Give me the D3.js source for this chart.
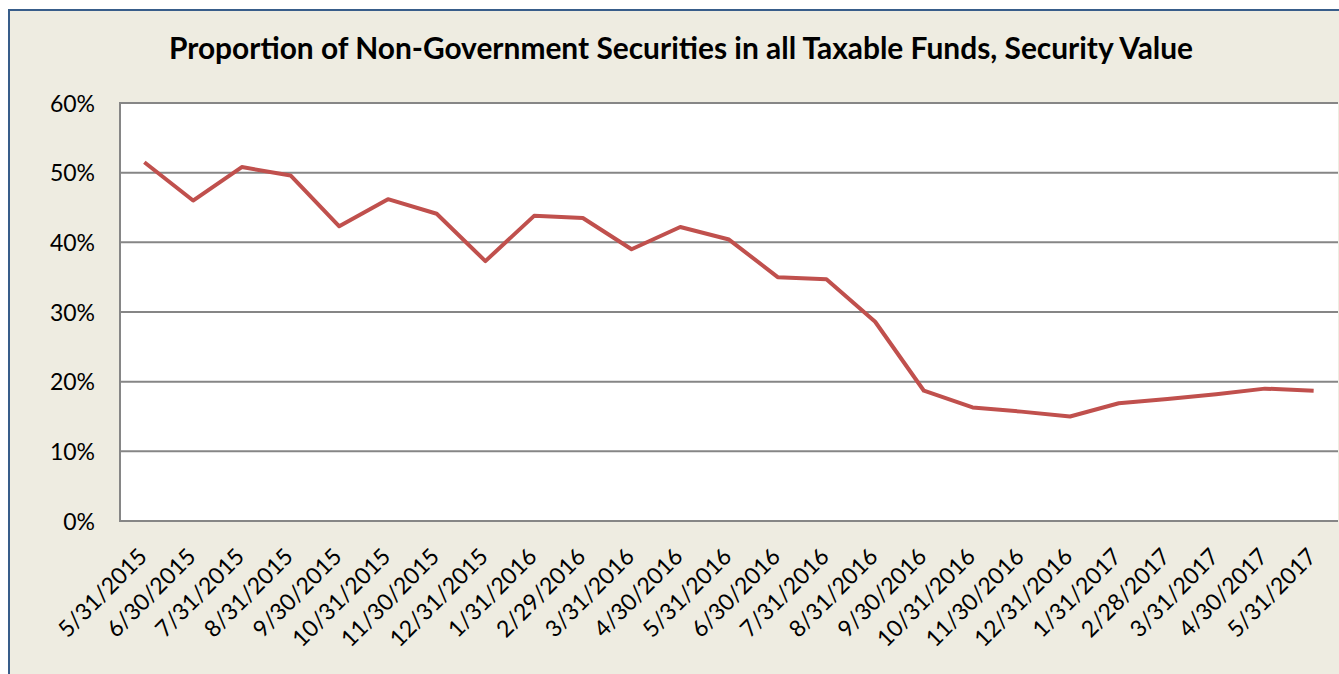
<!DOCTYPE html>
<html>
<head>
<meta charset="utf-8">
<script src="https://cdn.jsdelivr.net/npm/d3@7"></script>
<style>
  body { margin: 0; background: #fff; }
  svg { display: block; font-family: Lato, "Open Sans", sans-serif; }
</style>
</head>
<body>
<svg id="chart" width="1339" height="674"></svg>
<script>
// month-end dates along the x axis
var dates = ["5/31/2015", "6/30/2015", "7/31/2015", "8/31/2015", "9/30/2015", "10/31/2015",
  "11/30/2015", "12/31/2015", "1/31/2016", "2/29/2016", "3/31/2016", "4/30/2016",
  "5/31/2016", "6/30/2016", "7/31/2016", "8/31/2016", "9/30/2016", "10/31/2016",
  "11/30/2016", "12/31/2016", "1/31/2017", "2/28/2017", "3/31/2017", "4/30/2017", "5/31/2017"]

// share of non-government securities (fraction)
var shares = [0.515, 0.460, 0.508, 0.496, 0.423, 0.462, 0.441, 0.373, 0.438, 0.435, 0.390, 0.422,
  0.404, 0.350, 0.347, 0.286, 0.187, 0.163, 0.157, 0.150, 0.169, 0.175, 0.182, 0.190, 0.187]

var yTicks = [0, 0.1, 0.2, 0.3, 0.4, 0.5, 0.6]

var title = "Proportion of Non-Government Securities in all Taxable Funds, Security Value"

var svg = d3.select('#chart')

// note: "top" is taken by window.top, so use plot_* names
var plot_left = 120, plot_right = 1338, plot_top = 103, plot_bottom = 521

// outer chart frame
svg.append('rect')
    .attr('x', 9).attr('y', 10)
    .attr('width', 1400).attr('height', 700)
    .attr('fill', '#eeece1')
    .attr('stroke', '#385d8a')
    .attr('stroke-width', 2)

svg.append('text')
    .attr('x', 681)
    .attr('y', 59)
    .attr('text-anchor', 'middle')
    .style('font-size', '29.9px')
    .style('font-weight', 'bold')
    .attr('fill', '#000')
    .text(title)

var x = d3.scaleBand()
    .domain(dates)
    .range([plot_left, plot_right])

var y = d3.scaleLinear()
    .domain([0, 0.6])
    .range([plot_bottom, plot_top])

// plot area
svg.append('rect')
    .attr('x', plot_left).attr('y', plot_top)
    .attr('width', plot_right - plot_left).attr('height', plot_bottom - plot_top)
    .attr('fill', '#fff')

// gridlines
svg.append('g')
    .selectAll('line')
    .data(yTicks)
    .join('line')
    .attr('x1', plot_left)
    .attr('x2', plot_right)
    .attr('y1', d => y(d))
    .attr('y2', d => y(d))
    .attr('stroke', '#868686')
    .attr('stroke-width', 2)

svg.append('line')
    .attr('x1', plot_left).attr('x2', plot_left)
    .attr('y1', plot_top - 1).attr('y2', plot_bottom + 1)
    .attr('stroke', '#868686')
    .attr('stroke-width', 2)

// y axis labels
var yAxis = d3.axisLeft(y)
    .tickValues(yTicks)
    .tickFormat(d3.format('.0%'))
    .tickSize(0)
    .tickPadding(25)

var gy = svg.append('g')
    .attr('transform', 'translate(' + plot_left + ',0)')
    .call(yAxis)
gy.select('.domain').remove()
gy.selectAll('text')
    .style('font-size', '23px')
    .style('font-family', 'Lato, "Open Sans", sans-serif')
    .attr('fill', '#000')
    .attr('dy', '0.35em')

// x axis labels, rotated
var xAxis = d3.axisBottom(x).tickSize(0).tickPadding(0)
var gx = svg.append('g')
    .attr('transform', 'translate(0,' + plot_bottom + ')')
    .call(xAxis)
gx.select('.domain').remove()
gx.selectAll('text')
    .style('font-size', '23px')
    .style('font-family', 'Lato, "Open Sans", sans-serif')
    .attr('fill', '#000')
    .attr('text-anchor', 'end')
    .attr('x', 0)
    .attr('y', 0)
    .attr('dy', '0')
    .attr('transform', 'translate(4,37) rotate(-45)')

// the series line
var line = d3.line()
    .x((d, i) => x(dates[i]) + x.bandwidth() / 2)
    .y(d => y(d))

svg.append('path')
    .datum(shares)
    .attr('d', line)
    .attr('fill', 'none')
    .attr('stroke', '#c0504d')
    .attr('stroke-width', 4)
    .attr('stroke-linejoin', 'round')
</script>
</body>
</html>
